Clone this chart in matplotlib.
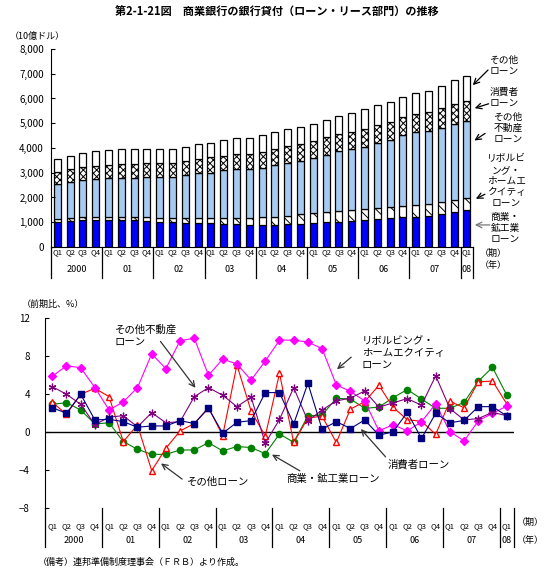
"""第2-1-21図 商業銀行の銀行貸付（ローン・リース部門）の推移: 上=残高積み上げ棒, 下=前期比折れ線."""
import numpy as np
import matplotlib
matplotlib.use("Agg")
import matplotlib.pyplot as plt
import matplotlib.transforms as mtransforms

plt.rcParams["font.family"] = ["Noto Sans CJK JP", "DejaVu Sans"]
plt.rcParams["hatch.linewidth"] = 0.7

# 2000Q1 - 2008Q1 (33 quarters)
quarters = ["Q1", "Q2", "Q3", "Q4"] * 8 + ["Q1"]
years = ["2000", "01", "02", "03", "04", "05", "06", "07", "08"]

# 残高（10億ドル）
commercial = [1000, 1050, 1080, 1090, 1080, 1080, 1080, 1050, 1000, 1000, 960, 960, 960, 920, 920, 880,
              880, 880, 920, 920, 960, 1000, 1000, 1040, 1080, 1120, 1160, 1200, 1200, 1240, 1320, 1400, 1480]
revolving = [130, 120, 120, 120, 150, 130, 130, 160, 170, 170, 200, 200, 200, 240, 240, 280,
             320, 320, 320, 400, 400, 400, 440, 440, 440, 440, 440, 440, 480, 480, 490, 490, 490]
other_re = [1400, 1440, 1490, 1540, 1540, 1560, 1560, 1610, 1650, 1650, 1740, 1820, 1840, 1940, 1980, 1980,
            1980, 2100, 2140, 2140, 2220, 2300, 2430, 2470, 2510, 2630, 2710, 2870, 2950, 2950, 2990, 3070, 3110]
consumer = [490, 530, 530, 520, 540, 580, 580, 560, 570, 560, 560, 580, 620, 560, 600, 600,
            650, 650, 690, 690, 690, 730, 680, 680, 730, 730, 730, 730, 730, 770, 800, 800, 810]
other = [520, 540, 570, 600, 610, 610, 610, 580, 570, 580, 580, 600, 570, 650, 650, 650,
         680, 680, 690, 690, 690, 690, 730, 770, 800, 800, 810, 810, 850, 850, 890, 970, 1010]

# 前期比（%）
g_revolving = [5.9, 7.0, 6.8, 4.7, 2.35, 3.2, 4.7, 8.25, 6.7, 9.65, 9.9, 6.0, 7.7, 7.2, 5.5, 7.5, 9.7,
               9.7, 9.5, 8.8, 5.0, 4.3, 3.3, 0.15, 0.8, 0.15, 1.1, 3.0, 0.07, -0.9, 1.2, 2.0, 2.75]
g_other_re = [4.8, 4.0, 2.95, 0.8, 1.6, 1.75, 0.57, 2.07, 1.0, 1.12, 3.75, 4.7, 3.9, 2.7, 3.7, -1.15, 1.35,
              4.7, 1.2, 2.35, 3.3, 3.6, 4.35, 2.65, 3.1, 3.55, 2.85, 5.95, 2.5, 1.3, 1.45, 2.1, 1.75]
g_consumer = [2.6, 2.0, 4.0, 1.3, 1.37, 1.12, 0.53, 0.67, 0.67, 1.23, 0.92, 2.53, -0.1, 1.05, 1.23, 4.18, 4.18,
              0.88, 5.16, 0.32, 1.12, 0.4, 1.3, -0.3, 0.05, 2.1, -0.65, 2.0, 1.0, 1.25, 2.7, 2.7, 1.73]
g_commercial = [2.95, 3.12, 2.35, 0.88, 1.0, -0.98, -1.79, -2.32, -2.32, -1.86, -1.86, -1.09, -1.96, -1.5, -1.6,
                -2.25, -0.18, -1.05, 1.72, 1.82, 3.58, 3.5, 2.52, 2.65, 3.65, 4.5, 3.5, 2.53, 2.53, 3.15, 5.38,
                6.84, 3.93]
g_other = [3.16, 1.9, 4.0, 4.63, 3.75, -0.98, 0.77, -4.04, -1.68, 0.14, 0.92, 2.6, -0.35, 7.09, 2.25, -0.4, 6.2,
           -1.07, 1.5, 1.7, -1.07, 2.45, 3.22, 4.95, 2.62, 1.33, 1.15, -0.21, 3.28, 2.58, 5.3, 5.4, 3.0]

x = np.arange(len(quarters))
year_centers = [1.5 + 4 * i for i in range(8)] + [32]
seps = [-0.5] + [3.5 + 4 * i for i in range(8)] + [32.5]

fig = plt.figure(figsize=(5.53, 5.73), dpi=100)
fig.text(0.5, 0.978, "第2-1-21図　商業銀行の銀行貸付（ローン・リース部門）の推移",
         ha="center", va="center", fontsize=8, weight="bold")


def category_axis(ax, sep_depth, q_pad, year_y, unit_x, unit_y):
    ax.set_xlim(-0.5, 32.5)
    ax.set_xticks(x, quarters, fontsize=5.5)
    ax.tick_params(axis="x", length=0, pad=q_pad)
    tr = mtransforms.blended_transform_factory(ax.transData, ax.transAxes)
    for s in seps:
        ax.plot([s, s], [0, -sep_depth], color="black", lw=0.9, transform=tr, clip_on=False)
    for c, yr in zip(year_centers, years):
        ax.text(c, year_y, yr, transform=tr, ha="center", va="center", fontsize=6.5)
    ax.text(unit_x, unit_y[0], "（期）", transform=tr, ha="left", va="center", fontsize=6.5)
    ax.text(unit_x, unit_y[1], "（年）", transform=tr, ha="left", va="center", fontsize=6.5)
    for sp in ("top", "right"):
        ax.spines[sp].set_visible(False)
    ax.tick_params(axis="y", direction="in", length=3, labelsize=7)


# ---- 上段: 残高 ----
ax1 = fig.add_axes([0.092, 0.569, 0.764, 0.3455])
layers = [(commercial, "#0000FF", None), (revolving, "white", "\\\\"),
          (other_re, "#A6CAF0", None), (consumer, "white", "xxxxx"), (other, "white", None)]
bottom = np.zeros(len(x))
for vals, col, hat in layers:
    ax1.bar(x, vals, bottom=bottom, width=0.55, color=col, edgecolor="black", lw=0.9, hatch=hat)
    bottom += np.array(vals)
ax1.set_ylim(0, 8000)
ax1.set_yticks(range(0, 8001, 1000), [f"{v:,}" for v in range(0, 8001, 1000)])
ax1.tick_params(axis="y", pad=5)
category_axis(ax1, 0.157, 1, -0.116, 33.0, (-0.03, -0.095))
fig.text(0.018, 0.937, "（10億ドル）", fontsize=6.5, va="center")

top_notes = [("その他\nローン", (34.9, 7350), (33.8, 7230), (32.3, 6460), "black"),
             ("消費者\nローン", (34.9, 6060), (33.9, 5820), (32.4, 5575), "black"),
             ("その他\n不動産\nローン", (35.2, 4810), (33.6, 4650), (32.4, 4240), "black"),
             ("リボルビ\nング・\nホームエ\nクイティ\nローン", (35.1, 2670), (33.6, 2180), (32.5, 1900), "black"),
             ("商業・\n鉱工業\nローン", (35.0, 770), (34.0, 890), (32.4, 890), "#777777")]
for txt, tpos, start, tip, col in top_notes:
    ax1.text(*tpos, txt, ha="center", va="center", fontsize=7, linespacing=1.15, clip_on=False)
    ax1.annotate("", xy=tip, xytext=start, annotation_clip=False,
                 arrowprops=dict(arrowstyle="->", color=col, lw=0.9))

# ---- 下段: 前期比 ----
ax2 = fig.add_axes([0.0817, 0.1129, 0.8474, 0.3316])
ax2.axhline(0, color="black", lw=1)
ax2.plot(x, g_commercial, color="#008000", lw=0.8, marker="o", ms=4.5, zorder=3)
ax2.plot(x, g_other, color="#FF0000", lw=0.8, marker="^", ms=5, mfc="white", mec="#FF0000", zorder=3)
ax2.plot(x, g_revolving, color="#FF00FF", lw=0.8, marker="D", ms=3.8, zorder=3)
ax2.plot(x, g_other_re, color="#800080", lw=0.8, marker=(6, 2, 0), ms=5.5, mew=0.9, zorder=3)
ax2.plot(x, g_consumer, color="#000080", lw=0.8, marker="s", ms=5, zorder=4)
ax2.set_ylim(-8, 12)
ax2.set_yticks(range(-8, 13, 4))
ax2.tick_params(axis="y", pad=11)
ax2.spines["bottom"].set_visible(False)
category_axis(ax2, 0.205, 10, -0.167, 32.7, (-0.072, -0.167))
fig.text(0.04, 0.468, "（前期比、%）", fontsize=6.5, va="center")

bot_notes = [("その他不動産\nローン", (4.4, 10.2), (7.5, 9.8), (10.2, 4.45)),
             ("リボルビング・\nホームエクイティ\nローン", (21.8, 8.35), (21.2, 8.1), (19.9, 6.45)),
             ("消費者ローン", (23.6, -3.35), (23.6, -2.8), (21.6, 0.56)),
             ("商業・鉱工業ローン", (16.5, -4.9), (17.6, -4.2), (15.3, -2.2)),
             ("その他ローン", (9.5, -5.2), (9.3, -5.1), (7.5, -3.1))]
for txt, tpos, start, tip in bot_notes:
    ax2.text(*tpos, txt, ha="left", va="center", fontsize=7.5, linespacing=1.2)
    ax2.annotate("", xy=tip, xytext=start,
                 arrowprops=dict(arrowstyle="->", color="#333333", lw=0.9))

fig.text(0.069, 0.018, "（備考）連邦準備制度理事会（ＦＲＢ）より作成。", fontsize=6.5, va="center")

fig.savefig("out.png", dpi=100)
